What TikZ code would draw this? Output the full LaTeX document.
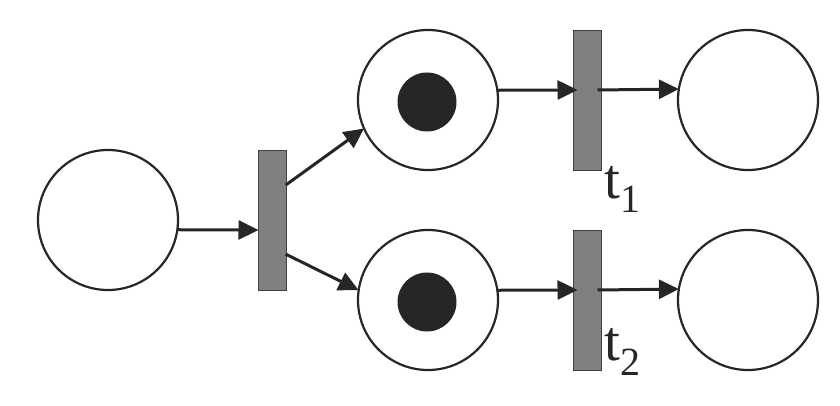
\documentclass[tikz,border=0pt]{standalone}
\usepackage{fontspec}
\setmainfont{Liberation Serif}
\usetikzlibrary{arrows.meta}
\definecolor{ink}{HTML}{262626}
\definecolor{barfill}{HTML}{808080}
\definecolor{barline}{HTML}{404040}
\tikzset{
  place/.style={circle, draw=ink, line width=2.2pt, minimum size=140pt, inner sep=0pt, outer sep=0pt, fill=white},
  token/.style={circle, fill=ink, minimum size=59pt, inner sep=0pt},
  trans/.style={rectangle, draw=barline, line width=1.3pt, fill=barfill, minimum width=28pt, minimum height=140pt, inner sep=0pt, outer sep=0pt},
  arr/.style={draw=ink, line width=3pt, -{Triangle[length=20pt,width=19pt]}},
  lbl/.style={anchor=base west, inner sep=0pt, font=\fontsize{57}{57}\selectfont, text=ink}
}
\begin{document}
\begin{tikzpicture}[x=1pt,y=-1pt]
\useasboundingbox (0,0) rectangle (840,406);
\node[place] (p0) at (108,220) {};
\node[place] (p1) at (428,100) {};
\node[place] (p2) at (428,300) {};
\node[place] (p3) at (748,100) {};
\node[place] (p4) at (748,300) {};
\node[token] (k1) at (427,102) {};
\node[token] (k2) at (427,302) {};
\node[trans] (tr0) at (272.5,220.5) {};
\node[trans] (t1) at (587.5,100.5) {};
\node[trans] (t2) at (587.5,300.5) {};
\node[lbl] (l1) at (604,198) {t\raisebox{-14pt}{\fontsize{40}{40}\selectfont 1}};
\node[lbl] (l2) at (604,360) {t\raisebox{-15pt}{\fontsize{40}{40}\selectfont 2}};
% arcs
\draw[arr] (p0.-8.1) -- ([yshift=-9.5pt]tr0.west);
\draw[arr, shorten <=-1pt] ([yshift=36pt]tr0.east) -- (p1.204);
\draw[arr, shorten <=-1pt] ([yshift=-34pt]tr0.east) -- (p2.172);
\draw[arr, shorten >=-4pt] (p1.8.1) -- ([yshift=10.5pt]t1.west);
\draw[arr] ([xshift=-4pt,yshift=10.5pt]t1.east) -- (p3.171.9);
\draw[arr, shorten >=-4pt] (p2.8.1) -- ([yshift=10.5pt]t2.west);
\draw[arr] ([xshift=-4pt,yshift=10.5pt]t2.east) -- (p4.171.9);
\end{tikzpicture}
\end{document}
